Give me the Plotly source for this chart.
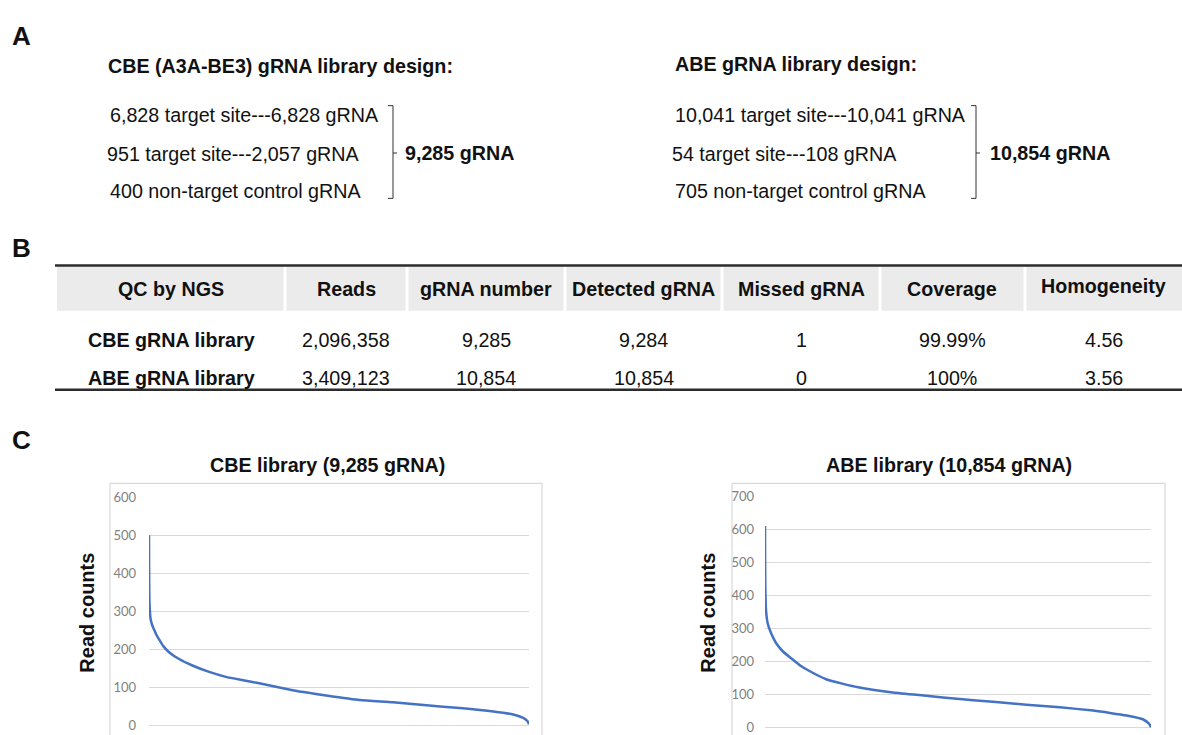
import plotly.graph_objects as go

# ---------------- data ----------------
cbe_design_title = "CBE (A3A-BE3) gRNA library design:"
cbe_design_lines = ["6,828 target site---6,828 gRNA",
                    "951 target site---2,057 gRNA",
                    "400 non-target control gRNA"]
cbe_design_total = "9,285 gRNA"

abe_design_title = "ABE gRNA library design:"
abe_design_lines = ["10,041 target site---10,041 gRNA",
                    "54 target site---108 gRNA",
                    "705 non-target control gRNA"]
abe_design_total = "10,854 gRNA"

table_columns = ["QC by NGS", "Reads", "gRNA number", "Detected gRNA",
                 "Missed gRNA", "Coverage", "Homogeneity"]
table_row_cbe = ["CBE gRNA library", "2,096,358", "9,285", "9,284", "1", "99.99%", "4.56"]
table_row_abe = ["ABE gRNA library", "3,409,123", "10,854", "10,854", "0", "100%", "3.56"]

cbe_title = "CBE library (9,285 gRNA)"
cbe_rank = [1, 2, 4, 8, 16, 42, 80, 123, 180, 246, 350, 491, 736, 1062, 1471, 1879, 2300, 2695,
            3100, 3512, 3900, 4328, 5145, 5961, 6778, 7594, 8411, 8900, 9145, 9250, 9285]
cbe_reads = [500, 450, 400, 350, 313, 278, 263, 252, 238, 226, 208, 192, 174, 157, 140, 127, 118, 110,
             101, 92, 85, 78, 66, 60, 52, 45, 36, 28, 19, 10, 2]
cbe_ticks = [0, 100, 200, 300, 400, 500, 600]

abe_title = "ABE library (10,854 gRNA)"
abe_rank = [1, 3, 10, 29, 76, 170, 311, 499, 780, 1000, 1250, 1719, 2200, 2658, 3597, 4536,
            5474, 6413, 7352, 8291, 9230, 9700, 10168, 10638, 10800, 10854]
abe_reads = [610, 525, 425, 355, 315, 285, 255, 230, 205, 186, 170, 145, 131, 120, 105, 95,
             85, 77, 68, 60, 50, 43, 35, 23, 10, 0]
abe_ticks = [0, 100, 200, 300, 400, 500, 600, 700]

y_title = "Read counts"

# ---------------- layout helpers ----------------
W, H = 1182, 735
def X(px):
    return px / W
def Y(py):
    return 1 - py / H

FONT = "Liberation Sans, Arial, sans-serif"
TXT = "#111111"
FS = 19.7

annotations = []
shapes = []

def text(x, y, s, size=FS, bold=False, xanchor="left", color=TXT, angle=0, family=FONT):
    annotations.append(dict(
        x=X(x), y=Y(y), xref="paper", yref="paper",
        text=f"<b>{s}</b>" if bold else s, showarrow=False,
        xanchor=xanchor, yanchor="middle", textangle=angle,
        font=dict(family=family, size=size, color=color)))

def line(x0, y0, x1, y1, color="#333333", width=1):
    shapes.append(dict(type="line", xref="paper", yref="paper",
                       x0=X(x0), y0=Y(y0), x1=X(x1), y1=Y(y1),
                       line=dict(color=color, width=width)))

def rect(x0, y0, x1, y1, fill=None, color=None, width=0):
    shapes.append(dict(type="rect", xref="paper", yref="paper",
                       x0=X(x0), y0=Y(y0), x1=X(x1), y1=Y(y1),
                       fillcolor=fill if fill else "rgba(0,0,0,0)",
                       line=dict(color=color if color else "rgba(0,0,0,0)", width=width),
                       layer="below"))

# ---------------- panel letters ----------------
text(10, 28, "A", size=26, bold=True)
text(10, 243, "B", size=26, bold=True)
text(10, 438, "C", size=26, bold=True)

# ---------------- panel A ----------------
line_y = [108, 148, 186]
text(106, 59, cbe_design_title, bold=True)
for i, s in enumerate(cbe_design_lines):
    text(108 if i != 1 else 105, line_y[i], s)
bx = 393
line(bx - 5, 99, bx, 99); line(bx, 99, bx, 193); line(bx - 5, 193, bx, 193)
line(bx, 147, bx + 4, 147)
text(403, 147, cbe_design_total, bold=True)

text(673, 57, abe_design_title, bold=True)
for i, s in enumerate(abe_design_lines):
    text(673 if i != 1 else 670, line_y[i], s)
bx2 = 976
line(bx2 - 5, 99, bx2, 99); line(bx2, 99, bx2, 193); line(bx2 - 5, 193, bx2, 193)
line(bx2, 147, bx2 + 4, 147)
text(988, 147, abe_design_total, bold=True)

# ---------------- panel B (table) ----------------
col_edges = [57, 285, 407, 565, 722, 880, 1025, 1182]
head_top, head_bot = 262, 307
row_y = [337, 375]
for i in range(len(table_columns)):
    x0 = col_edges[i] + (1.5 if i > 0 else 0)
    x1 = col_edges[i + 1] - (1.5 if i < len(table_columns) - 1 else 0)
    rect(x0, head_top, x1, head_bot, fill="#ebebeb")
    cx = (col_edges[i] + col_edges[i + 1]) / 2
    text(cx, 285 if i < 6 else 282, table_columns[i], bold=True, xanchor="center")
    text(cx, row_y[0], table_row_cbe[i], bold=(i == 0), xanchor="center")
    text(cx, row_y[1], table_row_abe[i], bold=(i == 0), xanchor="center")
line(55, 261, 1182, 261, color="#2b2b2b", width=2.5)
line(55, 387, 1182, 387, color="#2b2b2b", width=2.5)

# ---------------- panel C (curves) ----------------
rect(110, 482, 542, 745, color="#d9d9d9", width=1.2)
rect(732, 482, 1165, 745, color="#d9d9d9", width=1.2)
text(327, 463, cbe_title, bold=True, xanchor="center")
text(949, 463, abe_title, bold=True, xanchor="center")
text(87, 613, y_title, bold=True, xanchor="center", angle=-90, size=20)
text(708, 613, y_title, bold=True, xanchor="center", angle=-90, size=20)

fig = go.Figure()
blue = "#4472C4"
fig.add_trace(go.Scatter(x=cbe_rank, y=cbe_reads, mode="lines",
                         line=dict(color=blue, width=2.5, shape="spline", smoothing=0.5),
                         xaxis="x", yaxis="y", showlegend=False, hoverinfo="skip"))
fig.add_trace(go.Scatter(x=abe_rank, y=abe_reads, mode="lines",
                         line=dict(color=blue, width=2.5, shape="spline", smoothing=0.5),
                         xaxis="x2", yaxis="y2", showlegend=False, hoverinfo="skip"))

tickfont = dict(family="Lato, Liberation Sans, sans-serif", size=13, color="#7f7f7f")
cbe_px100 = (727 - 496) / 6.0
abe_px100 = (729 - 495) / 7.0

fig.update_layout(
    width=W, height=H, margin=dict(l=0, r=0, t=0, b=0),
    paper_bgcolor="white", plot_bgcolor="rgba(0,0,0,0)",
    showlegend=False,
    xaxis=dict(domain=[X(149), X(529)], range=[1, cbe_rank[-1]], showgrid=False,
               showticklabels=False, zeroline=False, showline=False, anchor="y"),
    yaxis=dict(domain=[0, Y(496)], range=[-100 * (735 - 727) / cbe_px100, 600],
               tickvals=cbe_ticks, ticktext=[str(v) for v in cbe_ticks],
               showgrid=True, gridcolor="#d9d9d9", gridwidth=1, zeroline=False,
               showline=False, ticks="", tickfont=tickfont, ticklabelstandoff=12,
               ticklabeloverflow="allow", anchor="x"),
    xaxis2=dict(domain=[X(765), X(1151)], range=[1, abe_rank[-1]], showgrid=False,
                showticklabels=False, zeroline=False, showline=False, anchor="y2"),
    yaxis2=dict(domain=[0, Y(495)], range=[-100 * (735 - 729) / abe_px100, 700],
                tickvals=abe_ticks, ticktext=[str(v) for v in abe_ticks],
                showgrid=True, gridcolor="#d9d9d9", gridwidth=1, zeroline=False,
                showline=False, ticks="", tickfont=tickfont, ticklabelstandoff=10,
                ticklabeloverflow="allow", anchor="x2"),
    annotations=annotations, shapes=shapes,
)

fig.write_html("out.html", config={"displayModeBar": False},
               post_script="document.body.style.margin='0px';document.body.style.overflow='hidden';")
